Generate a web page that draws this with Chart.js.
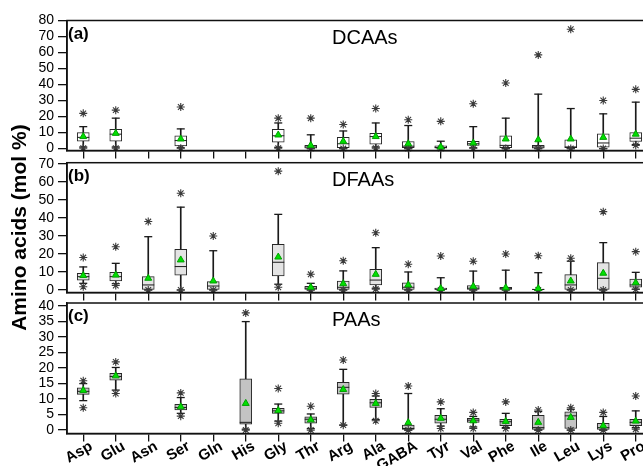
<!DOCTYPE html>
<html>
<head>
<meta charset="utf-8">
<script src="https://cdn.jsdelivr.net/npm/chart.js@4.4.1/dist/chart.umd.min.js"></script>
<style>
  html, body { margin: 0; padding: 0; background: #fff; overflow: hidden; }
  #wrap { position: relative; width: 643px; height: 466px; overflow: hidden; }
  canvas { position: absolute; left: 0; top: 0; }
</style>
</head>
<body>
<div id="wrap">
  <canvas id="chartA" width="700" height="466"></canvas>
  <canvas id="chartB" width="700" height="466"></canvas>
  <canvas id="chartC" width="700" height="466"></canvas>
</div>
<script>
const aminoAcids = ['Asp', 'Glu', 'Asn', 'Ser', 'Gln', 'His', 'Gly', 'Thr', 'Arg', 'Ala', 'GABA', 'Tyr', 'Val', 'Phe', 'Ile', 'Leu', 'Lys', 'Pro'];

// (a) DCAAs
const dcaaMax  = [22, 24, null, 26, null, null, 19, 19, 15, 25, 18, 17, 28, 41, 58.5, 74.5, 30, 37];
const dcaaHi   = [13.7, 19, null, 12.3, null, null, 16, 8.6, 11, 16, 14.4, 4.6, 13.7, 19, 34, 25, 21.7, 29];
const dcaaQ3   = [10, 12, null, 8, null, null, 12, 2, 7, 9.6, 4.4, 1.7, 4.6, 8, 2, 5.4, 9.2, 10];
const dcaaMed  = [7, 9, null, 5, null, null, 8, 1, 3, 7.5, 1.5, 0.7, 3, 2, 1, 1, 3.5, 6.5];
const dcaaQ1   = [4.6, 4.6, null, 1.7, null, null, 4, 0.2, 0.5, 2.7, 0.5, 0.3, 1.9, 0.5, 0.3, 0.5, 0.9, 4.4];
const dcaaLo   = [1, 1, null, 0.5, null, null, 0.8, 0, 0, 1, 0, 0, 0.5, 0, 0, 0, 0, 2.5];
const dcaaMin  = [0.3, 0.3, null, 0.2, null, null, 0.3, 0, 0, 0.3, 0, 0, 0.2, 0, 0, 0, 0, 2];
const dcaaMean = [7.5, 9.5, null, 6, null, null, 8.5, 2, 4.5, 7.5, 3, 1, 3.5, 6, 5.5, 6, 7, 9];

// (b) DFAAs
const dfaaMax  = [18, 24, 38, 53.7, 30, null, 66, 8.7, 16.2, 31.8, 14.3, 18.9, 16, 20, 19, 17.6, 43.5, 21.3];
const dfaaHi   = [12.8, 14.8, 29.6, 46, 21.8, null, 42, 3.7, 10.6, 23.5, 10, 6.8, 10.5, 11, 9.6, 16, 26.3, 9.8];
const dfaaQ3   = [9.3, 9.8, 7.4, 22.6, 4.6, null, 25.4, 2, 4.9, 11.5, 4, 1, 2.4, 1.5, 0.5, 8.5, 15.2, 6];
const dfaaMed  = [7.4, 7.4, 2.8, 13, 2.2, null, 15.4, 1, 1.5, 5.5, 1.5, 0.5, 1, 0.7, 0.3, 2.8, 6.5, 2.8];
const dfaaQ1   = [5.4, 5, 0, 8.2, 0, null, 7.8, 0.3, 0, 2.8, 0, 0, 0, 0, 0, 0, 0, 1.5];
const dfaaLo   = [3.7, 3.5, 0, 0, 0, null, 3.2, 0, 0, 1, 0, 0, 0, 0, 0, 0, 0, 0.5];
const dfaaMin  = [1.8, 2.5, 0, 0, 0, null, 1.5, 0, 0, 0.5, 0, 0, 0, 0, 0, 0, 0, 0.3];
const dfaaMean = [8, 8.3, 6.5, 16.7, 5, null, 18.3, 1.5, 3.5, 8.7, 2.8, 0.8, 2, 1.2, 0.8, 5, 9.3, 4];

// (c) PAAs
const paaMax  = [15.9, 22, null, 12, null, 37.8, 13.4, 7.7, 22.6, 11.8, 14.2, 9.1, 5.7, 9.1, 6.5, 7.2, 5.7, 11];
const paaHi   = [15, 20.2, null, 10.5, null, 35, 8.4, 5.2, 19.6, 11, 11.8, 6.9, 4.4, 5.4, 6, 6.7, 4.4, 6.2];
const paaQ3   = [13.6, 18.3, null, 8.3, null, 16.5, 7, 4.3, 15.4, 9.9, 1.6, 4.8, 3.8, 3.5, 4.8, 5.9, 2.2, 3.5];
const paaMed  = [12.5, 17.3, null, 7.3, null, 2.5, 6.2, 3.5, 13.8, 8.8, 0.5, 3.5, 3.2, 2.7, 0.8, 4.6, 0.8, 2.5];
const paaQ1   = [11.5, 16.1, null, 6.5, null, 1.9, 5.4, 2.2, 11.6, 7.3, 0, 2.2, 2.5, 1.4, 0, 0.5, 0, 1.4];
const paaLo   = [9.5, 12.9, null, 5.4, null, 0.3, 2.9, 0.5, 1.6, 3.4, 0, 1.3, 1, 0.8, 0, 0, 0, 0.8];
const paaMin  = [7.2, 11.8, null, 4.5, null, 0, 2.2, 0, 1.6, 3, 0, 0.5, 0.5, 0.5, 0, 0, 0, 0.3];
const paaMean = [12.8, 17.5, null, 7.5, null, 8.6, 6.3, 3.3, 13.1, 8.6, 2.4, 3.8, 3, 2.8, 2.5, 4.1, 1.4, 2.9];

const yTicksA = [0, 10, 20, 30, 40, 50, 60, 70, 80];
const yTicksB = [0, 10, 20, 30, 40, 50, 60, 70];
const yTicksC = [0, 5, 10, 15, 20, 25, 30, 35, 40];

const FONT = '"Liberation Sans", Arial, sans-serif';
Chart.defaults.font.family = FONT;
Chart.defaults.color = '#000';

// frame round the plot area + panel letter and name
const panelText = {
  id: 'panelText',
  afterDraw(chart, args, opts) {
    const { ctx, chartArea: a } = chart;
    ctx.save();
    ctx.strokeStyle = '#111';
    ctx.lineWidth = 1.5;
    ctx.strokeRect(a.left, a.top, a.right - a.left, a.bottom - a.top);
    ctx.fillStyle = '#000';
    ctx.textBaseline = 'alphabetic';
    ctx.font = 'bold 17px ' + FONT;
    ctx.fillText(opts.tag, a.left + 1, a.top + 18);
    ctx.font = '20px ' + FONT;
    ctx.fillText(opts.name, a.left + 265, a.top + 23);
    ctx.restore();
  }
};

function boxDatasets(s, fill) {
  const pair = (hi, lo) => hi.map((v, i) => (v == null ? null : [lo[i], v]));
  const pts = (data, style, r, color, bw, order, bg) => ({
    type: 'line', data, showLine: false, pointStyle: style, pointRadius: r,
    pointBorderColor: color, pointBackgroundColor: bg || color, pointBorderWidth: bw,
    order, clip: false
  });
  return [
    { type: 'bar', data: pair(s.hi, s.lo), backgroundColor: '#1a1a1a', barThickness: 1, grouped: false, order: 6 },
    { type: 'bar', data: pair(s.q3, s.q1), backgroundColor: fill, borderColor: '#262626', borderWidth: 1,
      borderSkipped: false, barThickness: 12, grouped: false, order: 5 },
    pts(s.med, 'line', 6, '#1a1a1a', 1, 4),
    pts(s.hi, 'line', 4, '#1a1a1a', 1.3, 4),
    pts(s.lo, 'line', 4, '#1a1a1a', 1.3, 4),
    pts(s.max, 'star', 4, '#3a3a3a', 1.1, 3),
    pts(s.min, 'star', 4, '#3a3a3a', 1.1, 3),
    pts(s.mean, 'triangle', 4, '#00a000', 1, 1, '#00e000')
  ];
}

function makePanel(id, s, p) {
  return new Chart(document.getElementById(id), {
    type: 'bar',
    data: { labels: aminoAcids, datasets: boxDatasets(s, p.fill) },
    plugins: [panelText],
    options: {
      responsive: false,
      animation: false,
      layout: { padding: { top: p.top, bottom: p.bottom, left: 0, right: 48 } },
      plugins: {
        legend: { display: false },
        tooltip: { enabled: false },
        panelText: { tag: p.tag, name: p.name }
      },
      scales: {
        x: {
          offset: true,
          grid: { offset: false, drawOnChartArea: false, tickLength: 8, color: '#111', lineWidth: 1.3 },
          border: { color: '#111', width: 1.5 },
          ticks: {
            display: p.xLabels, autoSkip: false, minRotation: 30, maxRotation: 30,
            labelOffset: 8, padding: -4, color: '#000', font: { size: 15, weight: 'bold' }
          },
          afterFit: (sc) => { sc.height = p.xHeight; }
        },
        y: {
          min: p.min, max: p.max,
          afterBuildTicks: (sc) => { sc.ticks = p.ticks.map((v) => ({ value: v })); },
          grid: { drawOnChartArea: false, tickLength: 9, color: '#111', lineWidth: 1.3 },
          border: { color: '#111', width: 1.5 },
          ticks: { autoSkip: false, color: '#000', font: { size: 14 }, padding: 4 },
          title: {
            display: !!p.yTitle, text: p.yTitle || '', color: '#000',
            font: { size: 21, weight: 'bold' }, padding: { top: 8, bottom: 0 }
          },
          afterFit: (sc) => { sc.width = 67; }
        }
      }
    }
  });
}

makePanel('chartA',
  { max: dcaaMax, hi: dcaaHi, q3: dcaaQ3, med: dcaaMed, q1: dcaaQ1, lo: dcaaLo, min: dcaaMin, mean: dcaaMean },
  { fill: '#ffffff', top: 20.5, bottom: 304, xHeight: 11.5, min: -1.2, max: 80, ticks: yTicksA,
    tag: '(a)', name: 'DCAAs', xLabels: false });

makePanel('chartB',
  { max: dfaaMax, hi: dfaaHi, q3: dfaaQ3, med: dfaaMed, q1: dfaaQ1, lo: dfaaLo, min: dfaaMin, mean: dfaaMean },
  { fill: '#e4e4e4', top: 162.7, bottom: 162, xHeight: 11.5, min: -1.4, max: 70.7, ticks: yTicksB,
    tag: '(b)', name: 'DFAAs', xLabels: false, yTitle: 'Amino acids (mol %)' });

makePanel('chartC',
  { max: paaMax, hi: paaHi, q3: paaQ3, med: paaMed, q1: paaQ1, lo: paaLo, min: paaMin, mean: paaMean },
  { fill: '#c3c3c3', top: 303, bottom: 0, xHeight: 32.5, min: -1.1, max: 41, ticks: yTicksC,
    tag: '(c)', name: 'PAAs', xLabels: true });
</script>
</body>
</html>
